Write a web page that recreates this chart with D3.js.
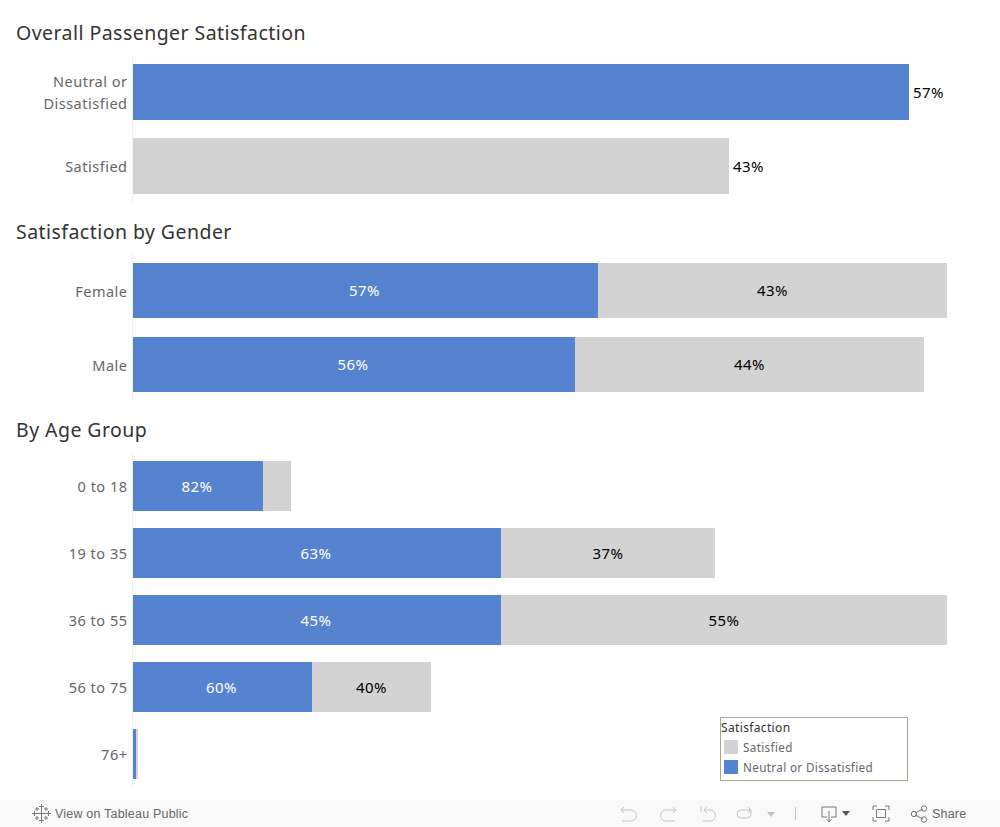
<!DOCTYPE html>
<html><head><meta charset="utf-8">
<script src="https://cdn.jsdelivr.net/npm/d3@7"></script>
<style>
html,body{margin:0;padding:0;background:#fff;overflow:hidden}
svg{display:block}
text{font-family:"Noto Sans",sans-serif}
.axis .domain{stroke:#f0f0f0}
.axis text{font-size:14.5px;fill:#666;letter-spacing:.5px}
.title{font-size:19.5px;fill:#333;letter-spacing:.45px}
.val{font-size:15px;letter-spacing:.45px}
.foot{font-family:"Liberation Sans",sans-serif;font-size:12.5px;fill:#666;letter-spacing:.2px}
.ic{fill:none;stroke:#777;stroke-width:1}
.ic.off{stroke:#c4c4c4}
</style></head><body>
<svg id="c" width="1000" height="827"></svg>
<script>
// Data (passenger counts, estimated)
const overallCategories = ["Neutral or Dissatisfied", "Satisfied"];
const overallValues = [58900, 45240];
const genderCategories = ["Female", "Male"];
const genderNeutral = [30160, 28670];
const genderSatisfied = [22640, 22640];
const ageCategories = ["0 to 18", "19 to 35", "36 to 55", "56 to 75", "76+"];
const ageNeutral = [7190, 20350, 20350, 9900, 166];
const ageSatisfied = [1550, 11830, 24660, 6580, 110];
const legendLabels = ["Satisfied", "Neutral or Dissatisfied"];
const titles = ["Overall Passenger Satisfaction", "Satisfaction by Gender", "By Age Group"];
const colorNeutral = "#5583d0", colorSatisfied = "#d3d3d3";

const svg = d3.select("#c");
const pct = f => Math.round(f * 100) + "%";
const left = 133;

function panel(categories, rangeY, pad){
  const y = d3.scaleBand().domain(categories).range(rangeY).paddingInner(pad).paddingOuter(pad/2);
  const ax = svg.append("g").attr("class","axis").attr("transform",`translate(${left-0.5},0)`)
    .call(d3.axisLeft(y).tickSize(0).tickPadding(5));
  ax.select(".domain").attr("d",`M0,${rangeY[0]}V${rangeY[1]}`);
  ax.selectAll(".tick text").attr("dy","0.42em");
  return y;
}
function title(t, yy){ svg.append("text").attr("class","title").attr("x",16).attr("y",yy).text(t); }
function label(x, y, t, fill, anchor){
  svg.append("text").attr("class","val").attr("x",x).attr("y",y).attr("dy","5.6px")
    .attr("text-anchor",anchor).attr("fill",fill).text(t);
}

// Overall
title(titles[0], 40);
{
  const x = d3.scaleLinear().domain([0, 58900]).range([left, 909]);
  const y = panel(overallCategories, [55, 203], 18/74);
  svg.selectAll(".ov").data(overallCategories).join("rect")
    .attr("x", left).attr("y", d => y(d)).attr("height", y.bandwidth())
    .attr("width", (d,i) => x(overallValues[i]) - left)
    .attr("fill", (d,i) => i === 0 ? colorNeutral : colorSatisfied);
  const tot = d3.sum(overallValues);
  overallCategories.forEach((c,i) => label(x(overallValues[i]) + 4, y(c) + y.bandwidth()/2, pct(overallValues[i]/tot), "#000", "start"));
  // wrap first tick label on two lines
  const t = svg.select(".axis").selectAll(".tick text").filter(d => d === overallCategories[0]);
  t.text(null).attr("dy", null);
  t.append("tspan").attr("x", -5).attr("dy", "-0.35em").text("Neutral or");
  t.append("tspan").attr("x", -5).attr("dy", "1.5em").text("Dissatisfied");
}

function stacked(categories, neu, sat, rangeY, pad, xMax, minLabel){
  const x = d3.scaleLinear().domain([0, xMax]).range([left, 947]);
  const y = panel(categories, rangeY, pad);
  categories.forEach((c,i) => {
    const tot = neu[i] + sat[i];
    const cy = y(c) + y.bandwidth()/2;
    svg.append("rect").attr("x", left).attr("y", y(c)).attr("height", y.bandwidth())
      .attr("width", x(neu[i]) - left).attr("fill", colorNeutral);
    svg.append("rect").attr("x", x(neu[i])).attr("y", y(c)).attr("height", y.bandwidth())
      .attr("width", x(tot) - x(neu[i])).attr("fill", colorSatisfied);
    if (x(neu[i]) - left > minLabel) label((left + x(neu[i]))/2 - 1, cy, pct(neu[i]/tot), "#fff", "middle");
    if (x(tot) - x(neu[i]) > minLabel) label((x(neu[i]) + x(tot))/2, cy, pct(sat[i]/tot), "#000", "middle");
  });
}
title(titles[1], 239);
stacked(genderCategories, genderNeutral, genderSatisfied, [253.5, 401.5], 19/74, 52800, 40);
title(titles[2], 437);
stacked(ageCategories, ageNeutral, ageSatisfied, [452.5, 787.5], 17/67, 45010, 40);

// Legend
const lg = svg.append("g");
lg.append("rect").attr("x",720.5).attr("y",717.5).attr("width",187).attr("height",63)
  .attr("fill","#fff").attr("stroke","#a9a793");
lg.append("text").attr("x",721).attr("y",732).attr("font-size",12).attr("fill","#333").attr("letter-spacing",.35).text("Satisfaction");
legendLabels.forEach((l,i) => {
  const ly = 740 + i*20;
  lg.append("rect").attr("x",724).attr("y",ly).attr("width",14).attr("height",14)
    .attr("fill", i === 0 ? colorSatisfied : colorNeutral);
  lg.append("text").attr("x",743).attr("y",ly+11.5).attr("font-size",11.7).attr("fill","#666").attr("letter-spacing",.35).text(l);
});

// Toolbar
const tb = svg.append("g");
tb.append("rect").attr("x",0).attr("y",800).attr("width",1000).attr("height",27).attr("fill","#f9f9f9");
tb.append("text").attr("class","foot").attr("x",55).attr("y",818).text("View on Tableau Public");
tb.append("text").attr("class","foot").attr("x",932).attr("y",818).text("Share");
// Tableau cross mark
const cross = tb.append("g").attr("stroke","#777").attr("stroke-width",1).attr("fill","none");
[[41.5,813.5,5],[34.5,813.5,2.5],[48.5,813.5,2.5],[41.5,806.5,2.5],[41.5,820.5,2.5],[37,809,2],[46,809,2],[37,818,2],[46,818,2]].forEach(([cx,cy,r]) =>
  cross.append("path").attr("d",`M${cx-r},${cy}H${cx+r}M${cx},${cy-r}V${cy+r}`));
const off = "ic off";
tb.append("path").attr("class",off).attr("d","M621,810H631a5.5,5.5 0 0 1 0,11H622M621,810l3,-3M621,810l3,3");
tb.append("path").attr("class",off).attr("d","M676,810H666a5.5,5.5 0 0 0 0,11H675M676,810l-3,-3M676,810l-3,3");
tb.append("path").attr("class",off).attr("d","M701,806V812M704,810H710a5.5,5.5 0 0 1 0,11H703M704,810l3,-3M704,810l3,3");
tb.append("path").attr("class",off).attr("d","M751,810H741a4,4 0 0 0 0,8H747a4,4 0 0 0 4,-4V810M751,810l-3,-3M751,810l-3,3");
tb.append("path").attr("fill","#c4c4c4").attr("d","M767,812h8l-4,5z");
tb.append("path").attr("class",off).attr("d","M795.5,807V820");
tb.append("path").attr("class","ic").attr("d","M827,817H822V807H836V817H831M829,811V821M826.5,819l2.5,3 2.5,-3");
tb.append("path").attr("fill","#555").attr("d","M842,811h8l-4,5z");
tb.append("path").attr("class","ic").attr("d","M873,810V806H877M885,806H889V810M889,817V821H885M877,821H873V817M876.5,809.5h9v8h-9z");
tb.append("path").attr("class","ic").attr("d","M915,813L923,809M915,815L923,819");
[[914,814],[924,808.5],[924,819.5]].forEach(([cx,cy]) => tb.append("circle").attr("class","ic").attr("cx",cx).attr("cy",cy).attr("r",2.7));
</script>
</body></html>
